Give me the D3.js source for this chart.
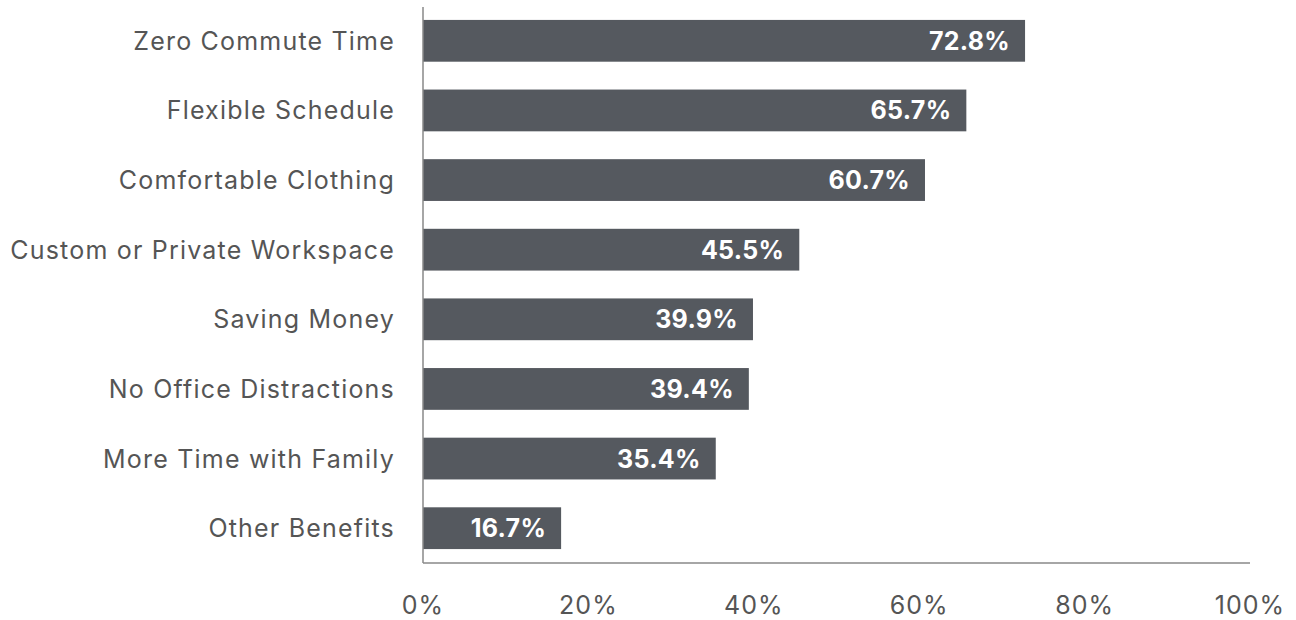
<!DOCTYPE html>
<html><head><meta charset="utf-8">
<script src="https://cdn.jsdelivr.net/npm/d3@7"></script>
<style>body{margin:0;background:#fff}svg{display:block}</style>
</head><body>
<svg id="c" width="1296" height="620"></svg>
<script>
const categories = ["Zero Commute Time","Flexible Schedule","Comfortable Clothing","Custom or Private Workspace","Saving Money","No Office Distractions","More Time with Family","Other Benefits"];
const values = [72.8,65.7,60.7,45.5,39.9,39.4,35.4,16.7];
const tickValues = [0,20,40,60,80,100];

const svg = d3.select("#c");
const x = d3.scaleLinear().domain([0,100]).range([423,1250]);
const y = d3.scaleBand().domain(categories).range([6,563]).paddingInner(0.4).paddingOuter(0.2);
const font = "Inter, sans-serif";

svg.selectAll("rect.bar").data(categories).join("rect")
  .attr("x", x(0)).attr("y", d=>y(d))
  .attr("width", (d,i)=>x(values[i])-x(0)).attr("height", y.bandwidth())
  .attr("fill","#55595f");

svg.selectAll("text.val").data(categories).join("text")
  .attr("x",(d,i)=>x(values[i])-15).attr("y",d=>y(d)+y.bandwidth()/2)
  .attr("dy","0.36em").attr("text-anchor","end")
  .attr("fill","#fff").attr("font-family",font).attr("font-weight","bold").attr("font-size",25)
  .attr("letter-spacing","0.3px")
  .text((d,i)=>values[i].toFixed(1)+"%");

svg.selectAll("text.cat").data(categories).join("text")
  .attr("x",395).attr("y",d=>y(d)+y.bandwidth()/2)
  .attr("dy","0.36em").attr("text-anchor","end")
  .attr("fill","#555").attr("font-family",font).attr("font-size",25)
  .attr("letter-spacing","1.2px")
  .text(d=>d);

svg.append("line").attr("x1",x(0)).attr("x2",x(0)).attr("y1",7).attr("y2",563)
  .attr("stroke","#888").attr("stroke-width",1.5);
svg.append("line").attr("x1",x(0)).attr("x2",x(100)).attr("y1",563).attr("y2",563)
  .attr("stroke","#888").attr("stroke-width",1.5);

svg.selectAll("text.tick").data(tickValues).join("text")
  .attr("x",d=>x(d)).attr("y",614).attr("text-anchor","middle")
  .attr("fill","#555").attr("font-family",font).attr("font-size",25)
  .attr("letter-spacing","1px")
  .text(d=>d+"%");
</script>
</body></html>
